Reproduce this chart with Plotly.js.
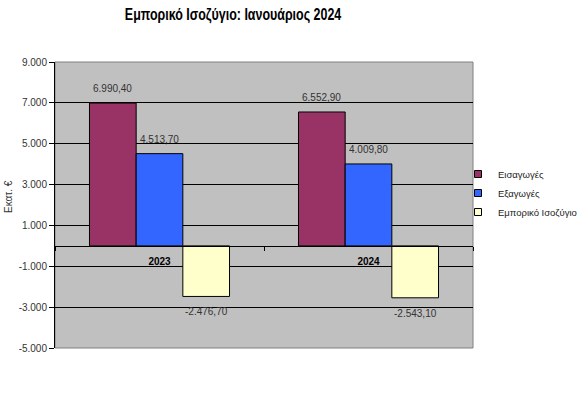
<!DOCTYPE html>
<html>
<head>
<meta charset="utf-8">
<script src="https://cdn.plot.ly/plotly-3.0.1.min.js"></script>
<style>html,body{margin:0;padding:0;background:#fff;}#chart{width:588px;height:397px;}</style>
</head>
<body>
<div id="chart"></div>
<script>
const categories = ['2023', '2024'];
const seriesNames = ['Εισαγωγές', 'Εξαγωγές', 'Εμπορικό Ισοζύγιο'];
const imports = [6990.4, 6552.9];
const exportsVals = [4513.7, 4009.8];
const balance = [-2476.7, -2543.1];
const yTickVals = [-5000, -3000, -1000, 1000, 3000, 5000, 7000, 9000];
const titleText = 'Εμπορικό Ισοζύγιο: Ιανουάριος 2024';
const yTitleText = 'Εκατ. €';

function fmt(v, dec) {
  const parts = Math.abs(v).toFixed(dec).split('.');
  const intPart = parts[0].replace(/\B(?=(\d{3})+(?!\d))/g, '.');
  return (v < 0 ? '-' : '') + intPart + (parts[1] ? ',' + parts[1] : '');
}

const colors = ['#993366', '#3366FF', '#FFFFCC'];
const allSeries = [imports, exportsVals, balance];
const baseFont = 'Liberation Sans, Arial, sans-serif';

const W = 588, H = 397;
const margin = {l: 55, r: 115, t: 62, b: 49};
const plotW = W - margin.l - margin.r;
const plotH = H - margin.t - margin.b;
const bargap = 0.33;
const barPx = plotW / categories.length * (1 - bargap) / allSeries.length;

const traces = allSeries.map((vals, i) => ({
  type: 'bar',
  name: seriesNames[i],
  x: categories,
  y: vals,
  hoverinfo: 'none',
  showlegend: false,
  marker: {color: colors[i], line: {color: '#000', width: 1}}
}));
// legend entries (small square swatches), on a hidden overlay axis pair
allSeries.forEach((vals, i) => traces.push({
  type: 'scatter', mode: 'markers', name: seriesNames[i],
  x: [0], y: [0], xaxis: 'x2', yaxis: 'y2', hoverinfo: 'none',
  marker: {symbol: 'square', size: 7, color: colors[i], line: {color: '#000', width: 1}}
}));

// value labels: category index positions (category names look numeric)
const valueLabels = [];
allSeries.forEach((vals, i) => vals.forEach((v, j) => valueLabels.push({
  text: fmt(v, 2), xref: 'x', yref: 'y', x: j, y: v,
  xshift: (i - (allSeries.length - 1) / 2) * barPx,
  yshift: v >= 0 ? 7 : -8,
  yanchor: v >= 0 ? 'bottom' : 'top', xanchor: 'center',
  showarrow: false,
  font: {family: baseFont, size: 10, color: '#333'}
})));

const yMin = -5000, yMax = 9000;
const layout = {
  width: W, height: H,
  margin: Object.assign({autoexpand: false}, margin),
  paper_bgcolor: '#fff',
  plot_bgcolor: '#C0C0C0',
  font: {family: baseFont, size: 10, color: '#333'},
  title: {
    text: titleText,
    font: {family: baseFont, size: 17, color: '#000', weight: 'bold'},
    x: 233 / W, xanchor: 'center', xref: 'container',
    y: 1 - 14 / H, yanchor: 'middle', yref: 'container'
  },
  barmode: 'group',
  bargap: bargap,
  bargroupgap: 0,
  showlegend: true,
  legend: {
    x: (458 - margin.l) / plotW, xanchor: 'left',
    y: (H - margin.b - 193) / plotH, yanchor: 'middle',
    font: {family: baseFont, size: 9.5, color: '#222'},
    bgcolor: 'rgba(0,0,0,0)', itemwidth: 30, tracegroupgap: 0
  },
  xaxis: {
    type: 'category',
    range: [-0.5, categories.length - 0.5],
    anchor: 'free',
    position: (0 - yMin) / (yMax - yMin),
    showline: true, linecolor: '#000', linewidth: 1,
    ticks: 'outside', tickson: 'boundaries', ticklen: 4, tickcolor: '#000',
    ticklabelstandoff: 6,
    showgrid: false, zeroline: false,
    tickfont: {family: baseFont, size: 10, color: '#000', weight: 'bold'}
  },
  yaxis: {
    range: [yMin, yMax],
    tickvals: yTickVals,
    ticktext: yTickVals.map(v => fmt(v, 0)),
    showline: true, linecolor: '#000', linewidth: 1,
    ticks: 'outside', ticklen: 5, tickcolor: '#000',
    showgrid: true, gridcolor: '#000', gridwidth: 1,
    zeroline: false,
    tickfont: {family: baseFont, size: 10, color: '#333'}
  },
  xaxis2: {overlaying: 'x', range: [10, 11], visible: false, anchor: 'y2'},
  yaxis2: {overlaying: 'y', range: [10, 11], visible: false, anchor: 'x2'},
  shapes: [{
    type: 'rect', xref: 'paper', yref: 'paper', x0: 0, x1: 1, y0: 0, y1: 1,
    line: {color: '#808080', width: 1}, layer: 'below'
  }],
  annotations: valueLabels.concat([{
    text: yTitleText, xref: 'paper', yref: 'paper', x: 0, xshift: -46,
    y: (H - margin.b - 197) / plotH, textangle: -90,
    showarrow: false, xanchor: 'center', yanchor: 'middle',
    font: {family: baseFont, size: 10, color: '#333'}
  }])
};

Plotly.newPlot('chart', traces, layout, {staticPlot: true, displayModeBar: false}).then(gd => {
  // condensed look of the original title face
  const t = gd.querySelector('.gtitle');
  if (t) {
    const bb = t.getBBox();
    const s = 217 / bb.width;
    const cx = bb.x + bb.width / 2;
    t.setAttribute('transform', `translate(${cx},0) scale(${s},1) translate(${-cx},0)`);
  }
});
</script>
</body>
</html>
